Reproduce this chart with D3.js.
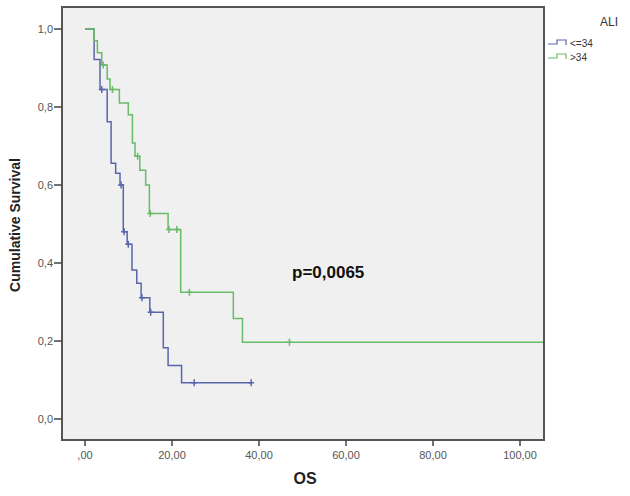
<!DOCTYPE html>
<html>
<head>
<meta charset="utf-8">
<script src="https://cdn.jsdelivr.net/npm/d3@7"></script>
<style>
    body { margin: 0; background: #ffffff; }
    svg { display: block; font-family: "Liberation Sans", Arial, sans-serif; }
</style>
</head>
<body>
<div id="chart"></div>
<script>
// Kaplan-Meier steps: time of each event and survival after it
const lowTimes = [0, 2.1, 3.45, 5.1, 6.0, 7.05, 8.05, 8.8, 9.7, 10.8, 11.9, 12.9, 14.9, 18.0, 19.1, 22.2, 38.2];
const lowSurv = [1.0, 0.922, 0.845, 0.762, 0.656, 0.63, 0.60, 0.48, 0.448, 0.382, 0.348, 0.311, 0.274, 0.183, 0.137, 0.093, 0.093];
const lowCensor = [3.85, 8.3, 9.0, 9.95, 13.1, 15.1, 25.1, 38.2];

const highTimes = [0, 2.1, 2.85, 3.85, 5.1, 5.75, 7.9, 9.95, 10.9, 11.5, 12.6, 13.95, 14.8, 19.1, 22.0, 34.1, 36.2, 105.6];
const highSurv = [1.0, 0.970, 0.939, 0.908, 0.872, 0.845, 0.81, 0.78, 0.708, 0.674, 0.638, 0.60, 0.527, 0.486, 0.325, 0.258, 0.197, 0.197];
const highCensor = [4.2, 6.3, 12.1, 15.0, 19.3, 21.1, 24.0, 47.0];

const groupNames = ["<=34", ">34"];
const groupColors = ["#5a66ab", "#68bb68"];

const xTicks = [0, 20, 40, 60, 80, 100];
const xTickLabels = [",00", "20,00", "40,00", "60,00", "80,00", "100,00"];
const yTicks = [0, 0.2, 0.4, 0.6, 0.8, 1.0];
const yTickLabels = ["0,0", "0,2", "0,4", "0,6", "0,8", "1,0"];

function survivalAt(times, surv, t) {
    let i = 0;
    while (i + 1 < times.length && times[i + 1] <= t) i++;
    return surv[i];
}

function renderChart() {
    const width = 630, height = 496;
    const frame = {left: 62, right: 544, top: 7, bottom: 440};

    const svg = d3.select("#chart").append("svg")
        .attr("width", width)
        .attr("height", height);

    const x = d3.scaleLinear().domain([0, 100]).range([85, 520]);
    const y = d3.scaleLinear().domain([0, 1]).range([419, 29]);

    // plot background
    svg.append("rect")
        .attr("x", frame.left)
        .attr("y", frame.top)
        .attr("width", frame.right - frame.left)
        .attr("height", frame.bottom - frame.top)
        .style("fill", "#f0f0f0");

    svg.append("clipPath").attr("id", "plot-clip")
        .append("rect")
        .attr("x", frame.left)
        .attr("y", frame.top)
        .attr("width", frame.right - frame.left)
        .attr("height", frame.bottom - frame.top);

    const line = d3.line()
        .x(function (d) { return x(d[0]); })
        .y(function (d) { return y(d[1]); })
        .curve(d3.curveStepAfter);

    const groups = [
        {times: lowTimes, surv: lowSurv, censor: lowCensor, color: groupColors[0]},
        {times: highTimes, surv: highSurv, censor: highCensor, color: groupColors[1]}
    ];

    const plot = svg.append("g").attr("clip-path", "url(#plot-clip)");

    groups.forEach(function (g) {
        const pts = g.times.map(function (t, i) { return [t, g.surv[i]]; });
        plot.append("path")
            .attr("d", line(pts))
            .style("fill", "none")
            .style("stroke", g.color)
            .style("stroke-width", 1.5);

        // censor marks
        plot.selectAll(null)
            .data(g.censor)
            .enter()
            .append("path")
            .attr("d", function (t) {
                const cx = x(t), cy = y(survivalAt(g.times, g.surv, t));
                return "M" + (cx - 3) + "," + cy + "H" + (cx + 3) + "M" + cx + "," + (cy - 3.5) + "V" + (cy + 3.5);
            })
            .style("stroke", g.color)
            .style("stroke-width", 1.5);
    });

    // frame
    svg.append("path")
        .attr("d", "M" + frame.left + "," + frame.top + "H" + frame.right + "V" + frame.bottom + "H" + frame.left + "Z")
        .style("fill", "none")
        .style("stroke", "#555")
        .style("stroke-width", 2);

    // X axis ticks
    svg.selectAll("x-ticks")
        .data(xTicks)
        .enter()
        .append("line")
        .attr("x1", function (d) { return x(d); })
        .attr("x2", function (d) { return x(d); })
        .attr("y1", frame.bottom)
        .attr("y2", frame.bottom + 6)
        .style("stroke", "#444")
        .style("stroke-width", 1.5);

    svg.selectAll("x-labels")
        .data(xTicks)
        .enter()
        .append("text")
        .attr("x", function (d) { return x(d); })
        .attr("y", 459)
        .attr("text-anchor", "middle")
        .style("font-size", "11px")
        .style("fill", "#555")
        .text(function (d, i) { return xTickLabels[i]; });

    // Y axis ticks
    svg.selectAll("y-ticks")
        .data(yTicks)
        .enter()
        .append("line")
        .attr("x1", frame.left - 8)
        .attr("x2", frame.left)
        .attr("y1", function (d) { return y(d); })
        .attr("y2", function (d) { return y(d); })
        .style("stroke", "#444")
        .style("stroke-width", 1.5);

    svg.selectAll("y-labels")
        .data(yTicks)
        .enter()
        .append("text")
        .attr("x", frame.left - 9)
        .attr("y", function (d) { return y(d) + 4; })
        .attr("text-anchor", "end")
        .style("font-size", "11px")
        .style("fill", "#555")
        .text(function (d, i) { return yTickLabels[i]; });

    // axis titles
    svg.append("text")
        .attr("transform", "translate(20,225) rotate(-90)")
        .attr("text-anchor", "middle")
        .style("font-size", "14px")
        .style("font-weight", "bold")
        .style("fill", "#222")
        .text("Cumulative Survival");

    svg.append("text")
        .attr("x", 305)
        .attr("y", 484)
        .attr("text-anchor", "middle")
        .style("font-size", "16px")
        .style("font-weight", "bold")
        .style("fill", "#222")
        .text("OS");

    svg.append("text")
        .attr("x", 292)
        .attr("y", 278)
        .style("font-size", "17px")
        .style("font-weight", "bold")
        .style("fill", "#111")
        .text("p=0,0065");

    // legend
    svg.append("text")
        .attr("x", 600)
        .attr("y", 26)
        .style("font-size", "12px")
        .style("fill", "#333")
        .text("ALI");

    const legend = svg.selectAll("legend-items")
        .data(groupNames)
        .enter()
        .append("g")
        .attr("transform", function (d, i) { return "translate(548," + (44 + i * 14) + ")"; });

    legend.append("path")
        .attr("d", "M0,0H9V-4H18V1")
        .style("fill", "none")
        .style("stroke", function (d, i) { return groupColors[i]; })
        .style("stroke-width", 1.2);

    legend.append("text")
        .attr("x", 22)
        .attr("y", 3)
        .style("font-size", "10px")
        .style("fill", "#333")
        .text(function (d) { return d; });
}

renderChart();
</script>
</body>
</html>
